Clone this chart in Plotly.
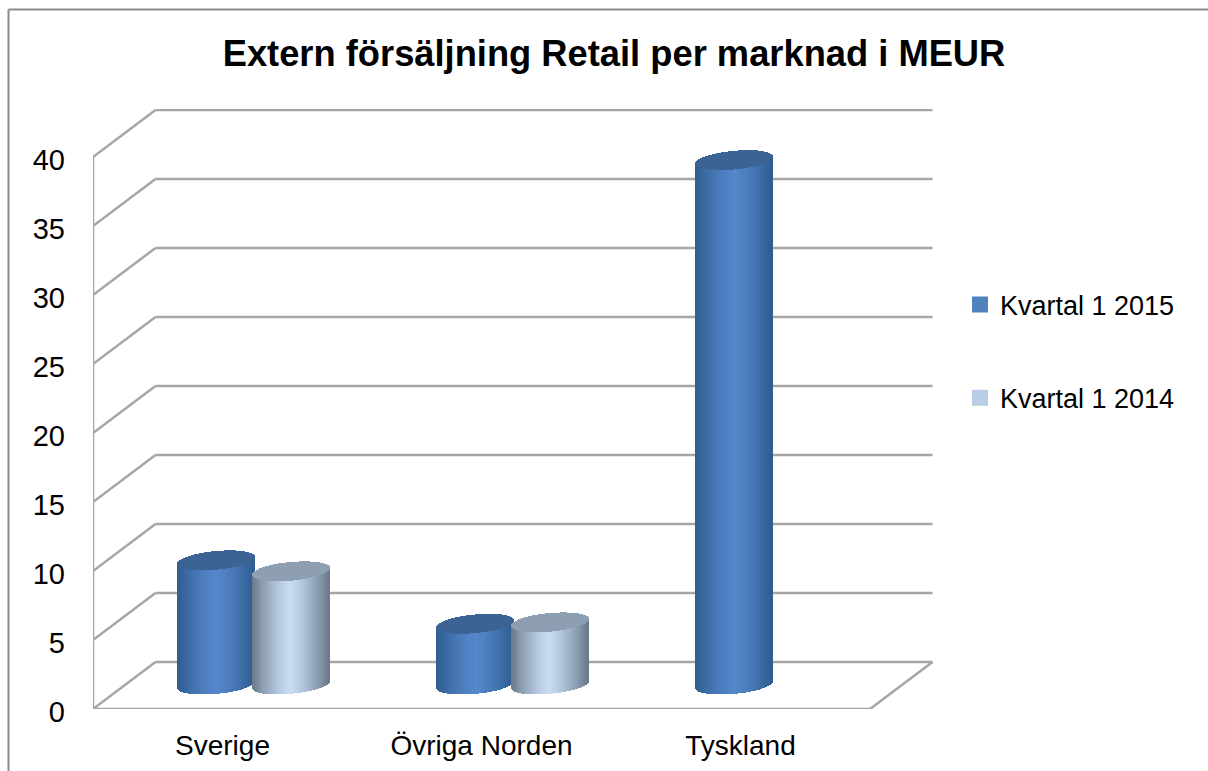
import plotly.graph_objects as go

# ---- data ----
categories = ["Sverige", "Övriga Norden", "Tyskland"]
kvartal_2015 = [9.0, 4.4, 38.0]
kvartal_2014 = [8.2, 4.5, None]
y_ticks = [0, 5, 10, 15, 20, 25, 30, 35, 40]
series_names = ["Kvartal 1 2015", "Kvartal 1 2014"]

# ---- page / plot geometry ----
W, H = 1208, 771
PX_L, PX_R, PX_T, PX_B = 93, 936, 109, 709     # plot box in pixels
PX_PER_CAT = 259.0
PX_PER_VAL = 13.8
X0 = -0.5
X1 = X0 + (PX_R - PX_L) / PX_PER_CAT
Y1 = (PX_B - PX_T) / PX_PER_VAL

DEPTH_X = 62.5 / PX_PER_CAT     # pseudo-3D offset of the back wall
DEPTH_Y = 47 / PX_PER_VAL
FLOOR_Y = 24.5 / PX_PER_VAL     # cylinder base centre above the front floor edge
HALF_W = 38.5 / PX_PER_CAT
ELL_H = 9.3 / PX_PER_VAL        # ellipse half height
TILT = 3.5 / PX_PER_VAL         # ellipse rises to the right
OFFSETS = [-0.1434, 0.1434]     # series offset from category centre
CLUSTER = 0.12
N_STRIPS = 78

GRID = "#a6a6a6"
TEXT = "#000000"
FONT = "Liberation Sans, Arial, sans-serif"
BODY = [(("#2f5c8f"), ("#5487cb")), (("#69798a"), ("#c7dbf3"))]
TOP = ["#3b6494", "#8e9fb4"]
SWATCH = ["#4f81bd", "#b9cde5"]


def paper_x(px):
    return (px - PX_L) / (PX_R - PX_L)


def paper_y(py):
    return (PX_B - py) / (PX_B - PX_T)


def rgb(h):
    return tuple(int(h[i:i + 2], 16) for i in (1, 3, 5))


def mix(a, b, s):
    ca, cb = rgb(a), rgb(b)
    return "rgb(%d,%d,%d)" % tuple(round(p + (q - p) * s) for p, q in zip(ca, cb))


def cylinder_strips(values, series):
    body = dict(x=[], base=[], y=[], color=[])
    top = dict(x=[], base=[], y=[])
    edge, centre = BODY[series]
    for i, v in enumerate(values):
        if v is None:
            continue
        cx = i + CLUSTER + OFFSETS[series]
        for k in range(N_STRIPS):
            t = -1 + (2 * k + 1) / N_STRIPS
            half = ELL_H * (1 - t * t) ** 0.5
            lift = TILT * t
            low = FLOOR_Y + lift - half
            up_front = FLOOR_Y + v + lift - half
            up_back = FLOOR_Y + v + lift + half
            x = cx + t * HALF_W
            body["x"].append(x)
            body["base"].append(low)
            body["y"].append(up_front - low)
            body["color"].append(mix(edge, centre, 1 - abs(t) ** 1.3))
            top["x"].append(x)
            top["base"].append(up_front)
            top["y"].append(up_back - up_front)
    return body, top


fig = go.Figure()
strip_w = 2 * HALF_W / N_STRIPS * 1.25

for s, vals in enumerate([kvartal_2015, kvartal_2014]):
    body, top = cylinder_strips(vals, s)
    fig.add_trace(go.Bar(x=body["x"], y=body["y"], base=body["base"], width=strip_w,
                         marker=dict(color=body["color"], line=dict(width=0)),
                         showlegend=False, hoverinfo="skip", name=series_names[s]))
    fig.add_trace(go.Bar(x=top["x"], y=top["y"], base=top["base"], width=strip_w,
                         marker=dict(color=TOP[s], line=dict(width=0)),
                         showlegend=False, hoverinfo="skip", name=series_names[s]))

for s, name in enumerate(series_names):
    fig.add_trace(go.Scatter(x=[None], y=[None], mode="markers", name=name,
                             legendgroup=name,
                             marker=dict(symbol="square", size=16, color=SWATCH[s])))

# pseudo-3D walls, derived from the axis scales
shapes = []


def seg(x0, y0, x1, y1):
    shapes.append(dict(type="line", xref="x", yref="y", x0=x0, y0=y0, x1=x1, y1=y1,
                       layer="below", line=dict(color=GRID, width=2.5)))


back_x0, back_x1 = X0 + DEPTH_X, 2.5 + DEPTH_X
for v in y_ticks:
    seg(X0, v, back_x0, v + DEPTH_Y)
    seg(back_x0, v + DEPTH_Y, back_x1, v + DEPTH_Y)
seg(X0, 0, X0, y_ticks[-1])
seg(X0, 0, 2.5, 0)
seg(2.5, 0, back_x1, DEPTH_Y)

# outer chart frame (top and left only are visible in the crop)
FRAME = "#8c8c8c"
fx0, fx1, fy0, fy1 = paper_x(8.5), paper_x(W), paper_y(9.5), paper_y(H)
shapes.append(dict(type="line", xref="paper", yref="paper", x0=fx0, y0=fy0, x1=fx1, y1=fy0,
                   line=dict(color=FRAME, width=2)))
shapes.append(dict(type="line", xref="paper", yref="paper", x0=fx0, y0=fy0, x1=fx0, y1=fy1,
                   line=dict(color=FRAME, width=2)))

fig.update_layout(
    width=W, height=H, autosize=False,
    margin=dict(l=PX_L, r=W - PX_R, t=PX_T, b=H - PX_B, pad=0, autoexpand=False),
    paper_bgcolor="white", plot_bgcolor="white",
    barmode="overlay", bargap=0,
    font=dict(family=FONT, color=TEXT, size=28),
    title=dict(text="<b>Extern försäljning Retail per marknad i MEUR</b>",
               x=614 / W, xanchor="center", xref="container",
               y=1 - 53 / H, yanchor="middle", yref="container",
               font=dict(family=FONT, size=36.3, color=TEXT)),
    xaxis=dict(range=[X0, X1], tickmode="array", tickvals=[0, 1, 2], ticktext=categories,
               showgrid=False, zeroline=False, showline=False, ticks="", automargin=False,
               tickfont=dict(size=28), ticklabelstandoff=17, fixedrange=True),
    yaxis=dict(range=[0, Y1], tickmode="array", tickvals=y_ticks,
               ticktext=[str(v) for v in y_ticks],
               showgrid=False, zeroline=False, showline=False, ticks="", automargin=False,
               tickfont=dict(size=29), ticklabelstandoff=27, ticklabelshift=3, fixedrange=True),
    legend=dict(x=paper_x(960), xanchor="left", xref="paper", y=paper_y(280.5), yanchor="top",
                yref="paper", bgcolor="rgba(0,0,0,0)", tracegroupgap=55,
                font=dict(size=27, family=FONT, color=TEXT), itemclick=False,
                itemdoubleclick=False),
    shapes=shapes,
)

fig.write_html("out.html", config={"displayModeBar": False, "responsive": False},
               post_script="document.body.style.margin='0';document.body.style.overflow='hidden';")
